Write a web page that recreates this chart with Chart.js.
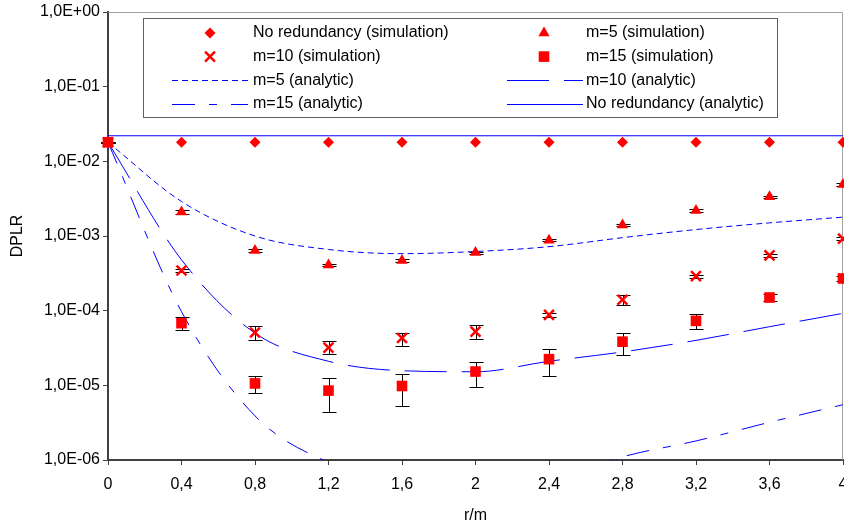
<!DOCTYPE html>
<html>
<head>
<meta charset="utf-8">
<script src="https://cdn.jsdelivr.net/npm/chart.js@4.4.0/dist/chart.umd.min.js"></script>
<style>
  html, body { margin: 0; padding: 0; background: #fff; }
  #wrap { width: 844px; height: 525px; }
</style>
</head>
<body>
<div id="wrap"><canvas id="dplrChart" width="844" height="525"></canvas></div>
<script>
// Categories on the x axis (r/m)
const xLabels = ["0", "0,4", "0,8", "1,2", "1,6", "2", "2,4", "2,8", "3,2", "3,6", "4"];

// Decade ticks of the y axis and their labels
const yTicks = [1e-6, 1e-5, 1e-4, 1e-3, 1e-2, 1e-1, 1];
const yTickLabels = ["1,0E-06", "1,0E-05", "1,0E-04", "1,0E-03", "1,0E-02", "1,0E-01", "1,0E+00"];

// Simulation results
const noRedSim = [0.018, 0.018, 0.018, 0.018, 0.018, 0.018, 0.018, 0.018, 0.018, 0.018, 0.018];
const m5Sim = [0.018, 2.1e-3, 6.4e-4, 4.1e-4, 4.7e-4, 6.0e-4, 8.8e-4, 1.4e-3, 2.2e-3, 3.35e-3, 4.9e-3];
const m10Sim = [0.018, 3.45e-4, 5.1e-5, 3.2e-5, 4.3e-5, 5.25e-5, 8.8e-5, 1.4e-4, 2.9e-4, 5.5e-4, 9.2e-4];
const m15Sim = [0.018, 6.8e-5, 1.06e-5, 8.5e-6, 9.8e-6, 1.53e-5, 2.24e-5, 3.84e-5, 7.3e-5, 1.5e-4, 2.7e-4];

// Error bars of the simulations (low / high)
const m5Lo = [0.0176, 2.0e-3, 6.15e-4, 3.95e-4, 4.5e-4, 5.8e-4, 8.5e-4, 1.35e-3, 2.12e-3, 3.22e-3, 4.7e-3];
const m5Hi = [0.0184, 2.2e-3, 6.65e-4, 4.25e-4, 4.9e-4, 6.2e-4, 9.1e-4, 1.45e-3, 2.28e-3, 3.48e-3, 5.1e-3];
const m10Lo = [0.0176, 3.3e-4, 4.0e-5, 2.65e-5, 3.4e-5, 4.2e-5, 8.3e-5, 1.2e-4, 2.75e-4, 5.2e-4, 8.8e-4];
const m10Hi = [0.0184, 3.6e-4, 6.2e-5, 3.9e-5, 5.1e-5, 6.4e-5, 9.3e-5, 1.6e-4, 3.05e-4, 5.8e-4, 9.6e-4];
const m15Lo = [0.0176, 5.5e-5, 7.8e-6, 4.4e-6, 5.3e-6, 9.5e-6, 1.35e-5, 2.57e-5, 5.6e-5, 1.35e-4, 2.5e-4];
const m15Hi = [0.0184, 8.1e-5, 1.34e-5, 1.26e-5, 1.43e-5, 2.07e-5, 3.1e-5, 5.0e-5, 9.0e-5, 1.68e-4, 2.95e-4];

// Analytic curves
const noRedAn = [0.022, 0.022, 0.022, 0.022, 0.022, 0.022, 0.022, 0.022, 0.022, 0.022, 0.022];
const m5An = [0.018, 2.9e-3, 1.0e-3, 6.6e-4, 5.8e-4, 6.2e-4, 7.2e-4, 9.5e-4, 1.22e-3, 1.5e-3, 1.79e-3];
const m10An = [0.018, 4.8e-4, 5.0e-5, 2.1e-5, 1.57e-5, 1.52e-5, 2.1e-5, 2.8e-5, 4.0e-5, 6.1e-5, 9.2e-5];
const m15An = [0.018, 9.7e-5, 3.9e-6, 9.3e-7, 5e-7, 3.5e-7, 5e-7, 1.1e-6, 1.8e-6, 3.2e-6, 5.5e-6];

const RED = "#ff0000";
const BLUE = "#0000ff";
const FONT = "'Liberation Sans', Arial, sans-serif";

// Error bars, drawn under the markers
const errorSets = [
    { lo: m5Lo, hi: m5Hi },
    { lo: m10Lo, hi: m10Hi },
    { lo: m15Lo, hi: m15Hi }
];

const errorBarPlugin = {
    id: "errorBars",
    beforeDatasetsDraw(chart) {
        const ctx = chart.ctx;
        const xs = chart.scales.x;
        const ys = chart.scales.y;
        ctx.save();
        ctx.strokeStyle = "#000";
        ctx.lineWidth = 1;
        errorSets.forEach(set => {
            set.lo.forEach((lo, i) => {
                const x = Math.round(xs.getPixelForValue(i)) + 0.5;
                const yLo = Math.round(ys.getPixelForValue(lo)) + 0.5;
                const yHi = Math.round(ys.getPixelForValue(set.hi[i])) + 0.5;
                ctx.beginPath();
                ctx.moveTo(x, yLo);
                ctx.lineTo(x, yHi);
                ctx.moveTo(x - 7, yLo);
                ctx.lineTo(x + 7, yLo);
                ctx.moveTo(x - 7, yHi);
                ctx.lineTo(x + 7, yHi);
                ctx.stroke();
            });
        });
        ctx.restore();
    }
};

// Gray top and right frame of the plot area
const framePlugin = {
    id: "frame",
    beforeDatasetsDraw(chart) {
        const { ctx, chartArea } = chart;
        ctx.save();
        ctx.strokeStyle = "#a0a0a0";
        ctx.lineWidth = 1;
        ctx.beginPath();
        ctx.moveTo(chartArea.left, chartArea.top + 0.5);
        ctx.lineTo(chartArea.right - 0.5, chartArea.top + 0.5);
        ctx.lineTo(chartArea.right - 0.5, chartArea.bottom);
        ctx.stroke();
        ctx.restore();
    }
};

// Legend box in two columns, drawn from the dataset styles
const legendPlugin = {
    id: "boxLegend",
    afterDraw(chart) {
        const ctx = chart.ctx;
        const box = { x: 143.5, y: 18.5, w: 634, h: 99 };
        const markerX = [210, 544];
        const lineX = [[172, 248], [507, 583]];
        const textX = [253, 586];
        ctx.save();
        ctx.fillStyle = "#fff";
        ctx.fillRect(box.x, box.y, box.w, box.h);
        ctx.strokeStyle = "#606060";
        ctx.lineWidth = 1;
        ctx.strokeRect(box.x, box.y, box.w, box.h);

        chart.data.datasets.forEach((ds, i) => {
            const col = i % 2;
            const row = Math.floor(i / 2);
            const y = 33 + row * 23.6;
            if (ds.showLine === false) {
                ctx.fillStyle = ds.pointBackgroundColor;
                ctx.strokeStyle = ds.pointBorderColor;
                ctx.lineWidth = ds.pointBorderWidth;
                Chart.helpers.drawPoint(ctx, {
                    pointStyle: ds.pointStyle,
                    radius: ds.pointRadius,
                    borderWidth: ds.pointBorderWidth,
                    rotation: 0
                }, markerX[col], y);
            } else {
                ctx.strokeStyle = ds.borderColor;
                ctx.lineWidth = ds.borderWidth;
                ctx.setLineDash(ds.borderDash || []);
                ctx.beginPath();
                ctx.moveTo(lineX[col][0], Math.round(y) + 0.5);
                ctx.lineTo(lineX[col][1], Math.round(y) + 0.5);
                ctx.stroke();
                ctx.setLineDash([]);
            }
            ctx.fillStyle = "#000";
            ctx.font = "16px " + FONT;
            ctx.textBaseline = "middle";
            ctx.textAlign = "left";
            ctx.fillText(ds.label, textX[col], y);
        });
        ctx.restore();
    }
};

function simSet(label, data, style, radius, border) {
    return {
        label: label,
        data: data,
        showLine: false,
        pointStyle: style,
        pointRadius: radius,
        pointBackgroundColor: RED,
        pointBorderColor: RED,
        pointBorderWidth: border,
        clip: false
    };
}

function anSet(label, data, dash) {
    return {
        label: label,
        data: data,
        borderColor: BLUE,
        borderWidth: 1,
        borderDash: dash,
        pointRadius: 0,
        fill: false,
        cubicInterpolationMode: "monotone"
    };
}

let ctx = document.getElementById("dplrChart").getContext("2d");
let dplrChart = new Chart(ctx, {
    type: "line",
    data: {
        labels: xLabels,
        datasets: [
            simSet("No redundancy (simulation)", noRedSim, "rectRot", 5.5, 0),
            simSet("m=5 (simulation)", m5Sim, "triangle", 6.5, 0),
            simSet("m=10 (simulation)", m10Sim, "crossRot", 7, 2.5),
            simSet("m=15 (simulation)", m15Sim, "rect", 7.5, 0),
            anSet("m=5 (analytic)", m5An, [6, 4]),
            anSet("m=10 (analytic)", m10An, [42, 15]),
            anSet("m=15 (analytic)", m15An, [23, 14, 8, 14]),
            anSet("No redundancy (analytic)", noRedAn, [])
        ]
    },
    options: {
        responsive: false,
        animation: false,
        devicePixelRatio: 1,
        events: [],
        layout: { autoPadding: false, padding: { top: 12, right: 1, bottom: 0, left: 0 } },
        plugins: {
            legend: { display: false },
            tooltip: { enabled: false }
        },
        scales: {
            x: {
                type: "category",
                offset: false,
                grid: { drawOnChartArea: false, tickLength: 5, color: "#404040" },
                border: { color: "#404040", width: 2 },
                ticks: { color: "#000", font: { family: FONT, size: 16 }, padding: 10, maxRotation: 0, autoSkip: false },
                title: { display: true, text: "r/m", color: "#000", font: { family: FONT, size: 16 }, padding: { top: 0, bottom: 0 } },
                afterFit: scale => {
                    // the last label may run off the canvas, as in the original
                    scale.height = 65;
                    scale.paddingLeft = 0;
                    scale.paddingRight = 0;
                }
            },
            y: {
                type: "logarithmic",
                min: 1e-6,
                max: 1,
                grid: { drawOnChartArea: false, tickLength: 5, color: "#404040" },
                border: { color: "#404040", width: 2 },
                ticks: {
                    color: "#000",
                    font: { family: FONT, size: 16 },
                    padding: 3,
                    callback: v => yTickLabels[Math.round(Math.log10(v)) + 6]
                },
                title: { display: true, text: "DPLR", color: "#000", font: { family: FONT, size: 16 }, padding: { top: 8, bottom: 0 } },
                afterBuildTicks: scale => {
                    scale.ticks = yTicks.map(v => ({ value: v }));
                },
                afterFit: scale => {
                    scale.width = 108;
                    scale.paddingTop = 0;
                    scale.paddingBottom = 0;
                }
            }
        }
    },
    plugins: [framePlugin, errorBarPlugin, legendPlugin]
});
</script>
</body>
</html>
